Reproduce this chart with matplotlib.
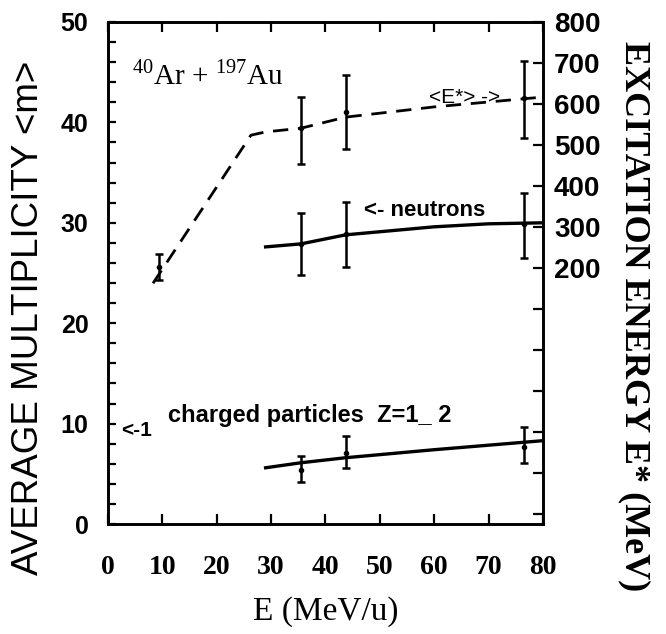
import numpy as np
import matplotlib.pyplot as plt
from matplotlib.ticker import MultipleLocator, FixedLocator, FuncFormatter

plt.switch_backend("Agg")
plt.rcParams["mathtext.fontset"] = "custom"
plt.rcParams["mathtext.rm"] = "Liberation Serif"

# ------------------------------------------------------------
# data
# ------------------------------------------------------------
# <E*> curve (dashed, right axis, MeV)
estar_curve_x = [8.3, 26.3, 29.0, 35.5, 43.7, 60.0, 80.0]
estar_curve_y = [163, 524, 532, 541, 568, 593, 617]

# <E*> measured points with error bars (right axis, MeV)
estar_pts_x = [9.4, 35.5, 43.7, 76.5]
estar_pts_y = [202, 541, 580, 615]
estar_pts_lo = [171, 454, 490, 517]
estar_pts_hi = [234, 617, 671, 705]

# neutron multiplicity (left axis)
neut_curve_x = [29.0, 35.5, 43.7, 60.0, 70.0, 80.0]
neut_curve_y = [27.6, 27.9, 28.8, 29.6, 29.9, 30.0]
neut_pts_x = [35.5, 43.7, 76.5]
neut_pts_y = [27.9, 28.9, 29.9]
neut_pts_lo = [24.8, 25.6, 26.5]
neut_pts_hi = [31.0, 32.1, 33.0]

# charged particle multiplicity Z=1-2 (left axis)
chg_curve_x = [29.0, 35.5, 43.7, 60.0, 80.0]
chg_curve_y = [5.6, 6.1, 6.6, 7.4, 8.3]
chg_pts_x = [35.5, 43.7, 76.5]
chg_pts_y = [5.4, 7.1, 7.7]
chg_pts_lo = [4.2, 5.6, 6.1]
chg_pts_hi = [6.8, 8.8, 9.7]

x_ticks = [0, 10, 20, 30, 40, 50, 60, 70, 80]
m_ticks = [0, 10, 20, 30, 40, 50]

# ------------------------------------------------------------
fig = plt.figure(figsize=(6.66, 6.34), dpi=100)
ax = fig.add_axes([0.162, 0.1735, 0.6533, 0.7918])
ax2 = ax.twinx()

ax.set_xlim(0, 80)
ax.set_ylim(0, 50)
ax2.set_ylim(-424, 800)

LW = 1.9
for a in (ax, ax2):
    for s in a.spines.values():
        s.set_linewidth(LW)

ax.set_xticks(x_ticks)
ax.xaxis.set_ticks_position("both")
ax.set_yticks(m_ticks)
ax.yaxis.set_minor_locator(MultipleLocator(2))
ax.tick_params(axis="x", direction="in", length=7, width=1.6, pad=22)
ax.tick_params(axis="y", which="both", direction="in", length=6, width=1.6, pad=14)

ax2.yaxis.set_major_locator(FixedLocator(list(range(-400, 801, 100))))
ax2.yaxis.set_major_formatter(
    FuncFormatter(lambda v, p: f"{int(v)}" if v >= 200 else ""))
ax2.tick_params(axis="y", direction="in", length=7, width=1.6, pad=8)

for lab in ax.get_xticklabels():
    lab.set_fontfamily("Liberation Serif")
    lab.set_fontweight("bold")
    lab.set_fontsize(20)
for lab in ax.get_yticklabels():
    lab.set_fontfamily("Liberation Sans")
    lab.set_fontweight("bold")
    lab.set_fontsize(18)
for lab in ax2.get_yticklabels():
    lab.set_fontfamily("Liberation Sans")
    lab.set_fontweight("bold")
    lab.set_fontsize(20)

ax.set_xlabel("E (MeV/u)", fontfamily="Liberation Serif", fontsize=24, labelpad=12)
ax.set_ylabel("AVERAGE MULTIPLICITY <m>", fontfamily="Liberation Sans",
              fontsize=26.5, va="center")
ax.yaxis.set_label_coords(-0.182, 0.41)
ax2.set_ylabel("EXCITATION ENERGY E* (MeV)", fontfamily="Liberation Serif",
               fontweight="bold", fontsize=26, rotation=270, va="center")
ax2.yaxis.set_label_coords(1.21, 0.415)

# <E*> dashed curve and points
ax2.plot(estar_curve_x, estar_curve_y, color="black", lw=2.0,
         linestyle=(0, (5.5, 3.5)))
ax2.errorbar(estar_pts_x, estar_pts_y,
             yerr=[np.subtract(estar_pts_y, estar_pts_lo),
                   np.subtract(estar_pts_hi, estar_pts_y)],
             fmt="o", ms=3, color="black", elinewidth=1.8, capsize=3,
             capthick=1.8)

# neutrons
ax.plot(neut_curve_x, neut_curve_y, color="black", lw=2.4)
ax.errorbar(neut_pts_x, neut_pts_y,
            yerr=[np.subtract(neut_pts_y, neut_pts_lo),
                  np.subtract(neut_pts_hi, neut_pts_y)],
            fmt="o", ms=3, color="black", elinewidth=1.8, capsize=3,
            capthick=1.8)

# charged particles
ax.plot(chg_curve_x, chg_curve_y, color="black", lw=2.4)
ax.errorbar(chg_pts_x, chg_pts_y,
            yerr=[np.subtract(chg_pts_y, chg_pts_lo),
                  np.subtract(chg_pts_hi, chg_pts_y)],
            fmt="o", ms=3, color="black", elinewidth=1.8, capsize=3,
            capthick=1.8)

# annotations
ax.text(4.5, 43.8, "$^{40}$Ar + $^{197}$Au", fontfamily="Liberation Serif",
        fontsize=21, va="baseline")
ax.text(59.0, 42.5, "<E*> ->", fontfamily="Liberation Sans", fontsize=15,
        va="center")
ax.text(47.0, 30.2, "<- neutrons", fontfamily="Liberation Sans",
        fontweight="bold", fontsize=16, va="bottom")
ax.text(11, 10.8, "charged particles  Z=1_ 2", fontfamily="Liberation Sans",
        fontweight="bold", fontsize=17, va="center")
ax.text(2.5, 9.3, "<-1", fontfamily="Liberation Sans", fontweight="bold",
        fontsize=15, va="center")

fig.savefig("out.png", dpi=100)
